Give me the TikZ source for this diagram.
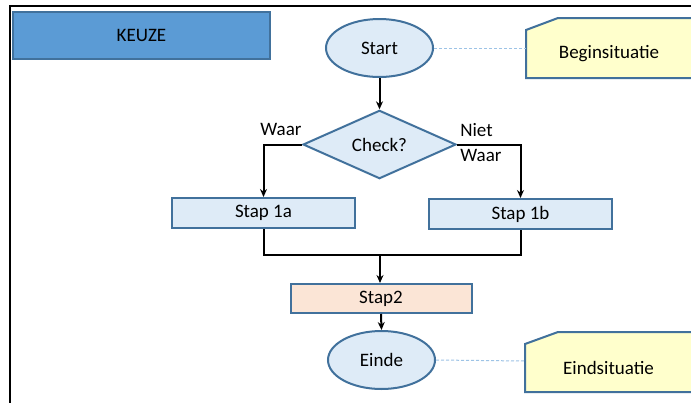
\documentclass[tikz,border=0pt]{standalone}
\usepackage{fontspec}
\setmainfont{Carlito}
\usetikzlibrary{shapes.geometric,arrows.meta}
\definecolor{edgeblue}{HTML}{41719C}
\definecolor{keuzeblue}{HTML}{5B9BD5}
\definecolor{lightblue}{HTML}{DEEBF7}
\definecolor{peach}{HTML}{FBE5D6}
\definecolor{noteyellow}{HTML}{FFFFCC}
\definecolor{dashblue}{HTML}{9DC3E6}
\tikzset{
  txt/.style={font=\fontsize{19}{23}\selectfont, text=black, inner sep=0pt},
  shapebase/.style={txt, draw=edgeblue, line width=2pt},
  keuzebox/.style={shapebase, fill=keuzeblue, minimum width=257pt, minimum height=47pt},
  terminal/.style={shapebase, ellipse, fill=lightblue, minimum width=107pt, minimum height=58pt},
  decision/.style={shapebase, diamond, fill=lightblue, minimum width=153pt, minimum height=65pt},
  stepbox/.style={shapebase, rectangle, fill=lightblue, minimum width=183pt, minimum height=30pt},
  step2box/.style={shapebase, rectangle, fill=peach, minimum width=181pt, minimum height=29pt},
  noteshape/.style={draw=edgeblue, line width=2pt, fill=noteyellow},
  flow/.style={draw=black, line width=2pt, -{Stealth[length=8pt,width=7pt]}},
  flowline/.style={draw=black, line width=2pt},
  hint/.style={draw=dashblue, line width=1pt, dash pattern=on 3pt off 2pt},
}
\begin{document}
\begin{tikzpicture}[x=1pt,y=-1pt]
\useasboundingbox (0,0) rectangle (691,402);
\clip (0,0) rectangle (691,402);
\fill[white] (0,0) rectangle (691,402);
% frame
\draw[black, line width=2.5pt] (10,410) -- (10,6) -- (700,6);

% note shapes
\draw[noteshape] (526,30) -- (558,18) -- (705,18) -- (705,78) -- (526,78) -- cycle;
\draw[noteshape] (525,344) -- (558,332) -- (705,332) -- (705,392) -- (525,392) -- cycle;

\node[keuzebox] (keuze) at (141.5,35.5) {KEUZE};
\node[terminal] (start) at (379.5,48) {Start};
\node[decision] (check) at (379.5,144.5) {Check?};
\node[stepbox] (s1a) at (263.5,213) {Stap 1a};
\node[stepbox] (s1b) at (520.5,214) {Stap 1b};
\node[step2box] (s2) at (381,298.5) {Stap2};
\node[terminal] (einde) at (381.5,360) {Einde};

% note texts
\node[txt] (begin) at (609,54) {Beginsituatie};
\node[txt] (eind) at (608.5,368) {Eindsituatie};
\coordinate (bleft) at (526,48);
\coordinate (eleft) at (525,361);

% labels
\node[txt] (waarL) at (281,129) {Waar};
\node[txt] (niet) at (476.5,130) {Niet};
\node[txt] (waarR) at (481,155) {Waar};

% connectors
\coordinate (join) at (380,255);
\draw[flow] (start.south) -- (check.north);
\draw[flow] (check.west) -| (s1a.north);
\draw[flow] (check.east) -| (s1b.north);
\draw[flowline] (s1a.south) |- (join) -| (s1b.south);
\draw[flow] (join) -- (join |- s2.north);
\draw[flow] (s2.south) -- (einde.north);
\draw[hint] (start.east) -- (bleft);
\draw[hint] (einde.east) -- (eleft);
\end{tikzpicture}
\end{document}
